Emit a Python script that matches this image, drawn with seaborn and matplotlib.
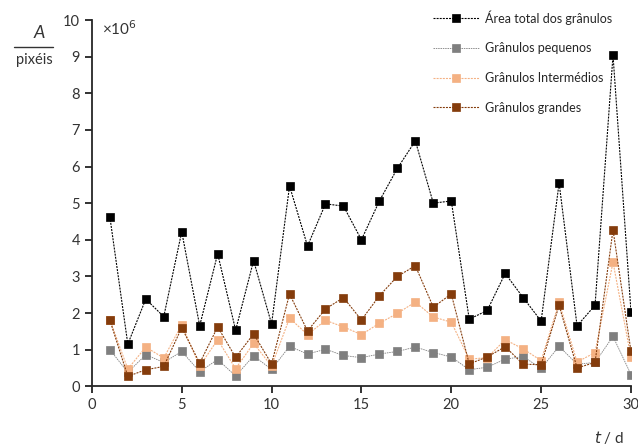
import matplotlib
matplotlib.use('Agg')
import matplotlib.pyplot as plt
from matplotlib.lines import Line2D
import seaborn as sns
import pandas as pd

dias = list(range(1, 31))
total = [4.63, 1.15, 2.38, 1.90, 4.22, 1.65, 3.62, 1.53, 3.43, 1.70,
         5.47, 3.83, 4.98, 4.92, 4.00, 5.06, 5.95, 6.70, 5.00, 5.06,
         1.83, 2.07, 3.08, 2.42, 1.78, 5.55, 1.65, 2.21, 9.04, 2.04]
pequenos = [1.00, 0.38, 0.86, 0.65, 0.95, 0.40, 0.73, 0.28, 0.83, 0.46,
            1.09, 0.88, 1.01, 0.84, 0.78, 0.88, 0.95, 1.07, 0.92, 0.80,
            0.45, 0.52, 0.74, 0.81, 0.49, 1.09, 0.60, 0.65, 1.36, 0.32]
intermedios = [1.82, 0.47, 1.07, 0.77, 1.68, 0.55, 1.27, 0.48, 1.17, 0.55,
               1.86, 1.41, 1.80, 1.62, 1.41, 1.72, 1.99, 2.30, 1.89, 1.75,
               0.74, 0.78, 1.27, 1.02, 0.70, 2.29, 0.66, 0.92, 3.39, 0.79]
grandes = [1.81, 0.27, 0.45, 0.54, 1.60, 0.63, 1.62, 0.79, 1.43, 0.61,
           2.52, 1.51, 2.11, 2.42, 1.81, 2.47, 3.00, 3.29, 2.16, 2.52,
           0.61, 0.80, 1.08, 0.60, 0.59, 2.21, 0.50, 0.65, 4.27, 0.95]

nomes = ['Área total dos grânulos', 'Grânulos pequenos',
         'Grânulos Intermédios', 'Grânulos grandes']
cores = ['#000000', '#7f7f7f', '#f4b183', '#843c0c']

df = pd.DataFrame({'t': dias, nomes[0]: total, nomes[1]: pequenos,
                   nomes[2]: intermedios, nomes[3]: grandes})

sns.set_style('ticks')
plt.rcParams['font.family'] = ['Lato', 'DejaVu Sans']

fig = plt.figure(figsize=(6.38, 4.46), dpi=100)
ax = fig.add_axes([0.144, 0.134, 0.845, 0.821])

for nome, cor in zip(nomes, cores):
    lw = 0.8 if cor != '#7f7f7f' else 0.6
    sns.lineplot(data=df, x='t', y=nome, ax=ax, color=cor, marker='s',
                 markersize=6.3, markeredgecolor=cor, markeredgewidth=0.5,
                 linestyle=(0, (1.8, 1.0)), linewidth=lw, label=nome)

ax.set_xlim(0, 30)
ax.set_ylim(0, 10)
ax.set_xticks(range(0, 31, 5))
ax.set_yticks(range(0, 11))
ax.set_xlabel('')
ax.set_ylabel('')
sns.despine(ax=ax)
for s in ['left', 'bottom']:
    ax.spines[s].set_linewidth(1.3)
ax.tick_params(axis='both', direction='out', length=5, width=1.3,
               labelsize=10.5, colors='#222222', labelcolor='#333333')

leg = ax.legend(loc='upper right', bbox_to_anchor=(0.985, 1.058), frameon=False,
                fontsize=9, handlelength=3.7, labelspacing=1.42,
                handletextpad=0.45)

# rótulos dos eixos
fig.text(0.062, 0.925, 'A', ha='center', va='center', fontsize=13,
         style='italic', color='#333333')
fig.add_artist(Line2D([0.022, 0.083], [0.895, 0.895], color='#333333',
                      linewidth=1.0, transform=fig.transFigure))
fig.text(0.054, 0.865, 'pixéis', ha='center', va='center', fontsize=10.5,
         color='#333333')
fig.text(0.16, 0.935, '×10$^{6}$', ha='left', va='center', fontsize=11,
         color='#333333')
fig.text(0.955, 0.018, '$t$ / d', ha='center', va='center', fontsize=11,
         color='#333333')

fig.savefig('out.png', dpi=100)
